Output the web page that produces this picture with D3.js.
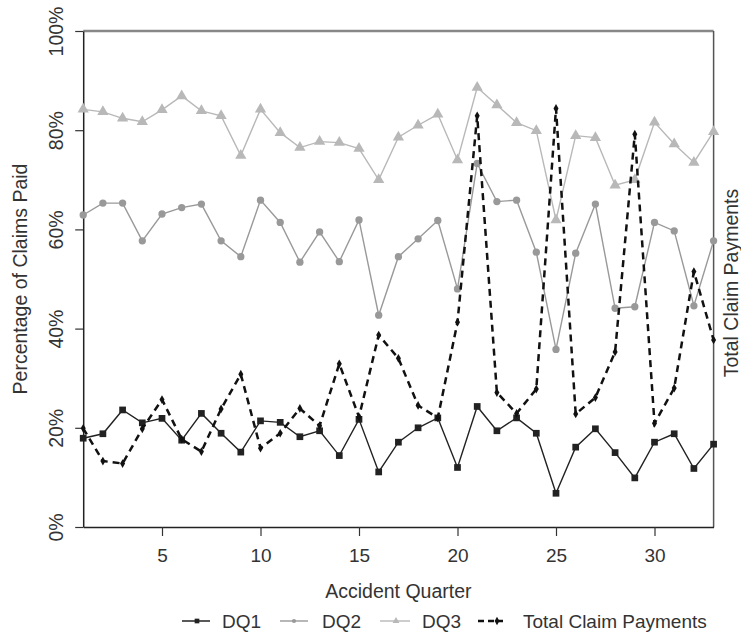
<!DOCTYPE html>
<html>
<head>
<meta charset="utf-8">
<script src="https://cdn.jsdelivr.net/npm/d3@7"></script>
<style>
  body { margin: 0; background: #fff; }
  svg { font-family: "Liberation Sans", Arial, sans-serif; }
</style>
</head>
<body>
<svg></svg>
<script>
// accident quarters 1..33
const quarters = d3.range(1, 34);

// percentage of claims paid by development quarter
const dq1 = [17.9, 18.8, 23.6, 21.0, 21.9, 17.5, 22.9, 18.9, 15.1, 21.4,
             21.1, 18.2, 19.4, 14.4, 21.7, 11.1, 17.1, 20.0, 22.0, 12.0,
             24.3, 19.4, 22.0, 18.9, 6.8, 16.1, 19.8, 15.0, 9.9, 17.1,
             18.8, 11.8, 16.7];
const dq2 = [62.9, 65.3, 65.3, 57.7, 63.1, 64.4, 65.1, 57.7, 54.5, 65.9,
             61.4, 53.4, 59.5, 53.5, 61.9, 42.7, 54.5, 58.1, 61.8, 48.0,
             73.3, 65.6, 65.9, 55.4, 35.8, 55.2, 65.1, 44.1, 44.4, 61.4,
             59.7, 44.6, 57.7];
const dq3 = [84.2, 83.7, 82.4, 81.7, 84.1, 86.9, 83.9, 82.9, 74.9, 84.2,
             79.5, 76.5, 77.7, 77.5, 76.3, 70.0, 78.6, 81.0, 83.2, 74.0,
             88.6, 85.1, 81.5, 79.9, 61.9, 78.9, 78.5, 68.9, 70.0, 81.6,
             77.2, 73.5, 79.7];
// total claim payments (right axis, no tick labels; relative units)
const totalPay = [19.9, 13.3, 12.8, 19.8, 25.7, 17.7, 15.2, 23.8, 30.8, 15.9,
                  18.9, 23.9, 20.4, 32.9, 22.2, 38.7, 34.0, 24.5, 22.0, 41.3,
                  82.9, 27.1, 22.9, 27.8, 84.4, 22.8, 26.1, 35.3, 79.2, 20.9,
                  28.0, 51.5, 37.7];

const xTicks = [5, 10, 15, 20, 25, 30];
const yTicks = [0, 20, 40, 60, 80, 100];
const legendNames = ["DQ1", "DQ2", "DQ3", "Total Claim Payments"];

var width = 741, height = 632;
var plotLeft = 83.2, plotRight = 713.6, plotTop = 31, plotBottom = 527;

var svg = d3.select("svg").attr("width", width).attr("height", height);

var x = d3.scaleLinear().domain([1, 33]).range([plotLeft, plotRight]);
var y = d3.scaleLinear().domain([0, 100]).range([plotBottom, plotTop]);
var yRight = d3.scaleLinear().domain([0, 100]).range([plotBottom, plotTop]);

var line = d3.line().x((d, i) => x(quarters[i])).y(d => y(d));
var lineRight = d3.line().x((d, i) => x(quarters[i])).y(d => yRight(d));

// box
svg.append("line").attr("x1", plotLeft).attr("x2", plotRight).attr("y1", plotTop).attr("y2", plotTop)
    .attr("stroke", "#888").attr("stroke-width", 2.5);
svg.append("line").attr("x1", plotRight).attr("x2", plotRight).attr("y1", plotTop).attr("y2", plotBottom)
    .attr("stroke", "#555").attr("stroke-width", 1.5);

// axes
var xAxis = d3.axisBottom(x).tickValues(xTicks).tickSize(9).tickSizeOuter(0);
var gx = svg.append("g").attr("transform", "translate(0," + plotBottom + ")").call(xAxis);
gx.select(".domain").attr("stroke", "#222").attr("stroke-width", 1.5);
gx.selectAll(".tick line").attr("stroke", "#333").attr("stroke-width", 1.2);
gx.selectAll(".tick text").attr("y", 35).attr("dy", 0)
    .style("font-size", "19px").attr("fill", "#333");

var yAxis = d3.axisLeft(y).tickValues(yTicks).tickFormat(d => d + "%").tickSize(8).tickSizeOuter(0);
var gy = svg.append("g").attr("transform", "translate(" + plotLeft + ",0)").call(yAxis);
gy.select(".domain").attr("stroke", "#222").attr("stroke-width", 1.5);
gy.selectAll(".tick line").attr("stroke", "#333").attr("stroke-width", 1.2);
gy.selectAll(".tick text")
    .attr("transform", "rotate(-90)")
    .attr("x", 0).attr("y", -20).attr("dy", 0)
    .style("text-anchor", "middle")
    .style("font-size", "19.5px").attr("fill", "#333");

// axis titles
svg.append("text").attr("x", (plotLeft + plotRight) / 2).attr("y", 598)
    .attr("text-anchor", "middle").style("font-size", "19.5px").attr("fill", "#333")
    .text("Accident Quarter");
svg.append("text").attr("transform", "translate(27," + (plotTop + plotBottom) / 2 + ") rotate(-90)")
    .attr("text-anchor", "middle").style("font-size", "19.5px").attr("fill", "#333")
    .text("Percentage of Claims Paid");
svg.append("text").attr("transform", "translate(738,283) rotate(-90)")
    .attr("text-anchor", "middle").style("font-size", "19.5px").attr("fill", "#333")
    .text("Total Claim Payments");

// series
var series = [
    { data: dq3, color: "#b8b8b8", shape: d3.symbolTriangle, size: 55 },
    { data: dq2, color: "#999999", shape: d3.symbolCircle, size: 42 },
    { data: dq1, color: "#222222", shape: d3.symbolSquare, size: 45 }
];

series.forEach(s => {
    svg.append("path").attr("d", line(s.data))
        .attr("fill", "none").attr("stroke", s.color).attr("stroke-width", 1.4);
    svg.selectAll(null).data(s.data).enter().append("path")
        .attr("transform", (d, i) => "translate(" + x(quarters[i]) + "," + y(d) + ")")
        .attr("d", d3.symbol().type(s.shape).size(s.size))
        .attr("fill", s.color);
});

svg.append("path").attr("d", lineRight(totalPay))
    .attr("fill", "none").attr("stroke", "#111").attr("stroke-width", 2.5)
    .attr("stroke-dasharray", "7,5");
svg.selectAll(null).data(totalPay).enter().append("path")
    .attr("transform", (d, i) => "translate(" + x(quarters[i]) + "," + yRight(d) + ")")
    .attr("d", d3.symbol().type(d3.symbolDiamond).size(22))
    .attr("fill", "#111");

// legend
var legendY = 621;
var legendItems = [
    { x0: 182, x1: 210, mx: 197, tx: 222, color: "#222222", shape: d3.symbolSquare, size: 22, dash: null, w: 1.5 },
    { x0: 280, x1: 308, mx: 294, tx: 322, color: "#999999", shape: d3.symbolCircle, size: 14, dash: null, w: 1.4 },
    { x0: 380, x1: 410, mx: 396, tx: 422, color: "#b8b8b8", shape: d3.symbolTriangle, size: 20, dash: null, w: 1.4 },
    { x0: 478, x1: 503, mx: 497, tx: 523, color: "#111111", shape: d3.symbolDiamond, size: 20, dash: "6,4", w: 2.5 }
];
legendItems.forEach((it, i) => {
    svg.append("line").attr("x1", it.x0).attr("x2", it.x1).attr("y1", legendY).attr("y2", legendY)
        .attr("stroke", it.color).attr("stroke-width", it.w)
        .attr("stroke-dasharray", it.dash);
    svg.append("path").attr("transform", "translate(" + it.mx + "," + legendY + ")")
        .attr("d", d3.symbol().type(it.shape).size(it.size)).attr("fill", it.color);
    svg.append("text").attr("x", it.tx).attr("y", legendY + 7)
        .style("font-size", "19px").attr("fill", "#333")
        .text(legendNames[i]);
});
</script>
</body>
</html>
